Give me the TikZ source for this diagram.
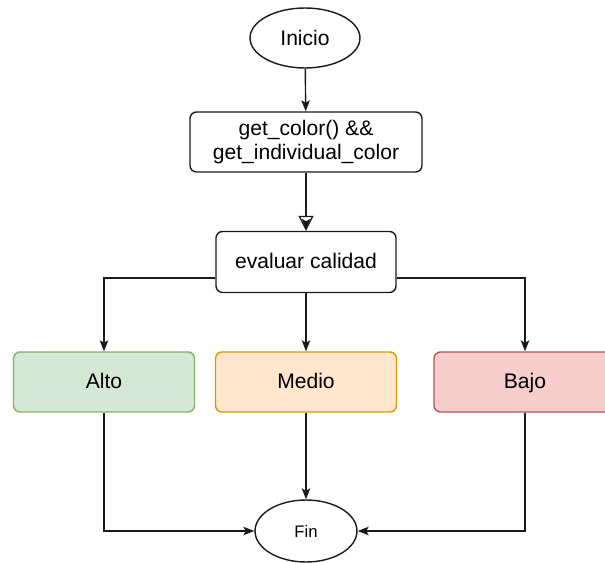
\documentclass[tikz,border=0pt]{standalone}
\usepackage{fontspec}
\setmainfont{Liberation Sans}
\usepackage{tikz}
\usetikzlibrary{positioning,shapes.geometric,arrows.meta}
\definecolor{altofill}{HTML}{D5E8D4}
\definecolor{altoline}{HTML}{82B366}
\definecolor{mediofill}{HTML}{FFE6CC}
\definecolor{medioline}{HTML}{D79B00}
\definecolor{bajofill}{HTML}{F8CECC}
\definecolor{bajoline}{HTML}{B85450}
\definecolor{ink}{HTML}{1A1A1A}

\begin{document}
\begin{tikzpicture}[x=0.02cm,y=-0.02cm,
  terminal/.style={ellipse,draw=ink,line width=0.8pt,inner sep=0pt,font=\fontsize{12}{14}\selectfont},
  stepbox/.style={rectangle,rounded corners=0.13cm,draw=ink,line width=0.8pt,minimum height=1.2cm,align=center,font=\fontsize{12}{14}\selectfont},
  oneline/.style={text height=1.9ex,text depth=0.5ex},
  flow/.style={draw=ink,line width=0.8pt,-{Stealth[length=0.22cm,width=0.17cm,inset=0.05cm]}}]
  \useasboundingbox (0,0) rectangle (605,563);
  % start and the two steps
  \node[terminal,minimum width=2.2cm,minimum height=1.2cm] (inicio) at (305,38) {Inicio};
  \node[stepbox,minimum width=4.64cm] (getcolor) at (306,142) {get\_color() \&\&\\get\_individual\_color};
  \node[stepbox,oneline,minimum width=3.6cm,minimum height=1.22cm] (evaluar) at (306,262) {evaluar calidad};
  % the three grades
  \node[stepbox,oneline,minimum width=3.62cm,fill=altofill,draw=altoline] (alto) at (104,382) {Alto};
  \node[stepbox,oneline,minimum width=3.62cm,fill=mediofill,draw=medioline] (medio) at (306,382) {Medio};
  \node[stepbox,oneline,minimum width=3.64cm,fill=bajofill,draw=bajoline] (bajo) at (525,382) {Bajo};
  \node[terminal,minimum width=2.04cm,minimum height=1.24cm,font=\fontsize{9.5}{11}\selectfont] (fin) at (306,531) {Fin};
  \draw[flow] (inicio) -- (getcolor);
  % two edges on top of each other here: open head plus a filled one inside
  \draw[draw=ink,line width=0.8pt,-{Triangle[open,length=0.3cm,width=0.3cm,line width=0.7pt]}] (getcolor) -- (evaluar);
  \fill[ink] ([yshift=0.6pt]evaluar.north) -- ++(-0.085cm,0.22cm) -- ++(0.085cm,-0.05cm) -- ++(0.085cm,0.05cm) -- cycle;
  \draw[flow] ([yshift=-0.32cm]evaluar.west) -| (alto.north);
  \draw[flow] (evaluar) -- (medio);
  \draw[flow] ([yshift=-0.32cm]evaluar.east) -| (bajo.north);
  \draw[flow] (alto.south) |- (fin.west);
  \draw[flow] (medio) -- (fin);
  \draw[flow] (bajo.south) |- (fin.east);
\end{tikzpicture}
\end{document}
